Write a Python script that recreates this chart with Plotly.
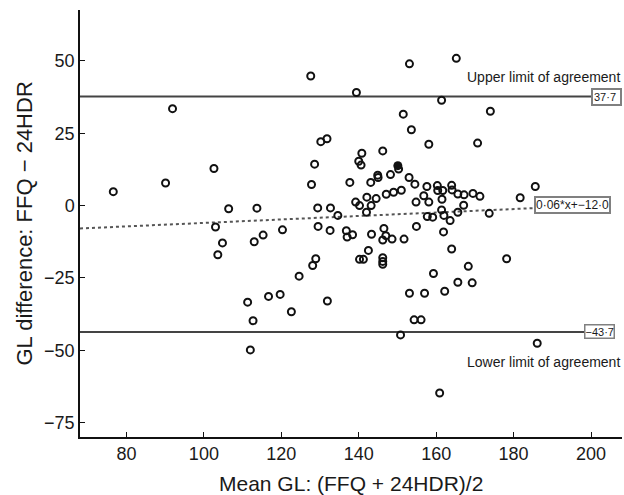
import plotly.graph_objects as go

# Bland-Altman data: mean GL (x) and difference FFQ - 24HDR (y)
mean_gl = [
    76.6, 90.1, 91.9, 102.6, 106.4, 113.7, 103.0, 120.3, 104.8, 103.6,
    113.0, 115.3, 124.6, 111.3, 116.7, 119.7, 122.6, 112.7, 112.0,
    127.6, 139.4, 153.1, 165.2, 161.4, 174.0, 151.5, 153.6, 158.1, 170.7,
    130.2, 131.8, 128.6, 127.8, 140.8, 140.0, 140.6, 146.2, 150.3,
    137.7, 143.1, 144.9, 145.0, 148.2, 153.0, 154.5, 157.6, 160.3, 160.4,
    161.7, 164.0, 164.1, 165.6, 167.2, 169.5, 171.3, 151.0, 149.0, 147.1,
    144.5, 142.1, 139.2, 140.2, 143.2, 156.8, 154.8, 158.1, 161.5, 167.1,
    129.4, 132.7,
    142.0, 134.6, 129.5, 132.6, 136.8, 137.0, 138.4, 143.3, 146.5, 147.0,
    146.2, 148.6, 151.7, 154.9, 157.7, 159.1, 161.4, 162.0, 163.6, 165.6,
    173.7, 161.9, 164.0, 142.5, 140.2, 141.2, 146.2, 146.2, 146.2, 128.9,
    128.1, 131.9, 159.3, 168.3, 165.6, 169.3, 162.2, 153.1, 157.0, 154.3,
    156.1, 150.8,
    178.2, 186.1, 160.9, 185.6, 181.7,
]
diff_gl = [
    4.8, 7.8, 33.5, 12.8, -1.1, -0.9, -7.4, -8.4, -12.9, -17.0,
    -12.5, -10.2, -24.4, -33.4, -31.4, -30.7, -36.7, -39.8, -49.9,
    44.8, 39.1, 49.0, 50.9, 36.4, 32.6, 31.6, 26.2, 21.2, 21.6,
    22.1, 23.1, 14.3, 7.3, 18.1, 15.3, 14.0, 18.9, 12.6,
    8.0, 8.0, 10.5, 9.7, 10.7, 9.7, 7.4, 6.6, 6.9, 5.2,
    5.2, 7.0, 5.4, 4.0, 3.7, 4.2, 3.2, 5.3, 4.6, 3.9,
    2.4, 2.9, 1.2, 0.0, 0.0, 3.4, 1.2, 1.2, 2.2, 0.1,
    -0.8, -0.8,
    -2.3, -3.4, -7.2, -8.6, -8.7, -10.9, -10.1, -9.9, -7.9, -10.4,
    -11.9, -11.6, -11.6, -7.2, -3.8, -4.0, -1.5, -3.4, -5.2, -2.3,
    -2.7, -9.1, -15.0, -15.5, -18.6, -18.6, -18.0, -19.3, -20.3, -18.4,
    -20.7, -33.0, -23.5, -21.0, -26.5, -26.7, -29.6, -30.3, -30.3, -39.5,
    -39.5, -44.7,
    -18.4, -47.6, -64.8, 6.6, 2.7,
]
# overlapping (filled-looking) point
filled_x = [150.1]
filled_y = [13.8]

upper_loa = 37.7
lower_loa = -43.7
reg_slope = 0.06
reg_intercept = -12.0
reg_x = [68.0, 185.3]

upper_label = "37·7"
lower_label = "−43·7"
reg_label = "0·06*x+−12·0"

x_ticks = [80, 100, 120, 140, 160, 180, 200]
y_ticks = [-75, -50, -25, 0, 25, 50]

FONT = "Liberation Sans, Arial, sans-serif"
TXT = "#1a1a1a"

fig = go.Figure()

# regression (dotted) line
fig.add_trace(go.Scatter(
    x=reg_x, y=[reg_slope * v + reg_intercept for v in reg_x],
    mode="lines", line=dict(color="#555555", width=2, dash="dot"),
    hoverinfo="skip", showlegend=False))

# limits of agreement
for v in (upper_loa, lower_loa):
    fig.add_trace(go.Scatter(
        x=[68.0, 206.0], y=[v, v], mode="lines",
        line=dict(color="#444444", width=1.8),
        hoverinfo="skip", showlegend=False))

fig.add_trace(go.Scatter(
    x=mean_gl, y=diff_gl, mode="markers",
    marker=dict(symbol="circle-open", size=7, color="#111111",
                line=dict(width=2, color="#111111")),
    showlegend=False))
fig.add_trace(go.Scatter(
    x=filled_x, y=filled_y, mode="markers",
    marker=dict(symbol="circle", size=9, color="#111111"),
    showlegend=False))

fig.add_annotation(x=1.0, xref="paper", y=upper_loa, yref="y",
                   xanchor="right", yanchor="middle", showarrow=False,
                   text=upper_label, align="left", width=25,
                   bgcolor="white", bordercolor="#808080", borderwidth=2,
                   borderpad=1, font=dict(family=FONT, size=11, color=TXT))
fig.add_annotation(x=206.2, xref="x", y=lower_loa, yref="y",
                   xanchor="right", yanchor="middle", showarrow=False,
                   text=lower_label, align="left",
                   bgcolor="white", bordercolor="#808080", borderwidth=1.5,
                   borderpad=0, font=dict(family=FONT, size=11, color=TXT))
fig.add_annotation(x=reg_x[1], xref="x", y=0.2, yref="y",
                   xanchor="left", yanchor="middle", showarrow=False,
                   text=reg_label, align="left",
                   bgcolor="white", bordercolor="#808080", borderwidth=2,
                   borderpad=0, font=dict(family=FONT, size=12, color=TXT))

fig.add_annotation(x=1.0, xref="paper", y=44.4, yref="y",
                   xanchor="right", yanchor="middle", showarrow=False,
                   text="Upper limit of agreement",
                   font=dict(family=FONT, size=14, color=TXT))
fig.add_annotation(x=1.0, xref="paper", y=-54.0, yref="y",
                   xanchor="right", yanchor="middle", showarrow=False,
                   text="Lower limit of agreement",
                   font=dict(family=FONT, size=14, color=TXT))

# axis titles
fig.add_annotation(x=0.5, xref="paper", y=0, yref="paper",
                   xanchor="center", yanchor="middle", yshift=-46,
                   showarrow=False, text="Mean GL: (FFQ + 24HDR)/2",
                   font=dict(family=FONT, size=21, color=TXT))
fig.add_annotation(x=0, xref="paper", y=0.5, yref="paper",
                   xanchor="center", yanchor="middle", xshift=-56,
                   textangle=-90, showarrow=False,
                   text="GL difference: FFQ − 24HDR",
                   font=dict(family=FONT, size=22, color=TXT))

axis_common = dict(
    showgrid=False, zeroline=False, showline=True, linecolor="#111111",
    linewidth=1.5, ticks="inside", ticklen=5, tickwidth=1.2,
    tickcolor="#111111", tickfont=dict(family=FONT, size=18, color=TXT),
)

fig.update_layout(
    width=624, height=495,
    margin=dict(l=80, r=2, t=10, b=58),
    paper_bgcolor="white", plot_bgcolor="white",
    xaxis=dict(range=[68, 208], tickvals=x_ticks, **axis_common),
    yaxis=dict(range=[-80, 67.6], tickvals=y_ticks, **axis_common),
)

fig.write_html(
    "out.html",
    config={"displayModeBar": False},
    post_script=("document.body.style.margin='0px';"
                 "document.body.style.overflow='hidden';"
                 "document.documentElement.style.overflow='hidden';"),
)
